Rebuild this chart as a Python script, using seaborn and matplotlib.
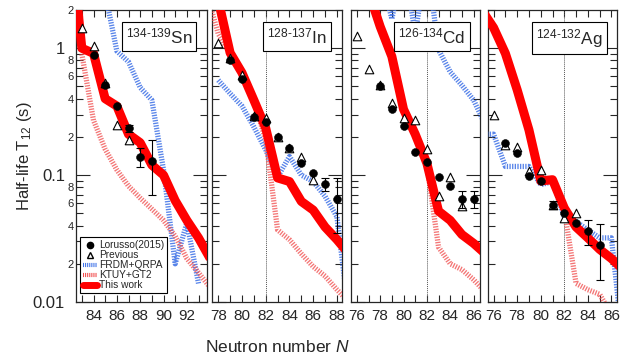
import numpy as np
import matplotlib
matplotlib.use("Agg")
import matplotlib.pyplot as plt
import seaborn as sns
from matplotlib.lines import Line2D
from matplotlib.ticker import FixedLocator, FuncFormatter, MultipleLocator

nan = np.nan

# ---- Sn (134-139)
sn_n = [82, 83, 84, 85, 86, 87, 88, 89, 90, 91, 92, 93, 94]
sn_this = [8, 1.0, 0.91, 0.40, 0.35, 0.21, 0.18, 0.12, 0.10, 0.063, 0.044, 0.032, 0.022]
sn_ktuy = [nan, 0.9, 0.27, 0.16, 0.11, 0.082, 0.066, 0.054, 0.044, 0.033, 0.022, 0.017, 0.013]
sn_frdm = [nan, nan, 6, 2.7, 0.95, 0.78, 0.49, 0.39, 0.11, 0.02, 0.042, 0.014, nan]
sn_exp_n = [84, 85, 86, 87, 88, 89]
sn_exp = [0.89, 0.51, 0.35, 0.235, 0.14, 0.13]
sn_exp_err = [0, 0, 0, 0.015, 0.025, 0.06]
sn_prev_n = [83, 84, 85, 86, 87]
sn_prev = [1.45, 1.05, 0.53, 0.25, 0.19]

# ---- In (128-137)
in_n = [77, 78, 79, 80, 81, 82, 83, 84, 85, 86, 87, 88, 89]
in_this = [nan, 2.4, 0.92, 0.64, 0.39, 0.235, 0.095, 0.089, 0.062, 0.053, 0.039, 0.031, 0.024]
in_ktuy = [2.8, 1.3, 0.9, 0.62, 0.38, 0.19, 0.037, 0.031, 0.024, 0.019, 0.016, 0.0125, 0.010]
in_frdm = [nan, 0.56, 0.44, 0.35, 0.24, 0.158, 0.097, 0.14, 0.10, 0.089, 0.068, 0.047, 0.008]
in_exp_n = [79, 80, 81, 82, 83, 84, 85, 86, 87, 88]
in_exp = [0.81, 0.57, 0.287, 0.26, 0.20, 0.165, 0.125, 0.103, 0.085, 0.065]
in_exp_err = [0, 0, 0, 0, 0, 0, 0, 0, 0.01, 0.03]
in_prev_n = [78, 79, 80, 81, 82, 83, 84, 85, 86]
in_prev = [1.09, 0.84, 0.61, 0.29, 0.28, 0.20, 0.165, 0.14, 0.092]

# ---- Cd (126-134)
cd_n = [77, 78, 79, 80, 81, 82, 83, 84, 85, 86, 87]
cd_this = [2.8, 1.48, 0.86, 0.33, 0.21, 0.124, 0.052, 0.044, 0.034, 0.029, 0.024]
cd_ktuy = [2.8, 1.48, 0.86, 0.33, 0.21, 0.12, 0.027, 0.020, 0.018, 0.015, 0.012]
cd_frdm = [6, 4, 1.7, 5, 1.3, 5, 0.97, 0.65, 0.51, 0.39, 0.25]
cd_exp_n = [78, 79, 80, 81, 82, 83, 84, 85, 86]
cd_exp = [0.50, 0.33, 0.244, 0.153, 0.127, 0.097, 0.082, 0.065, 0.065]
cd_exp_err = [0, 0, 0, 0, 0, 0, 0, 0.01, 0.01]
cd_prev_n = [76, 77, 78, 79, 80, 81, 82, 83, 84, 85]
cd_prev = [1.25, 0.68, 0.515, 0.37, 0.28, 0.27, 0.162, 0.068, 0.097, 0.057]

# ---- Ag (124-132)
ag_n = [75, 76, 77, 78, 79, 80, 81, 82, 83, 84, 85, 86, 87]
ag_this = [2.0, 1.45, 0.91, 0.47, 0.227, 0.09, 0.092, 0.055, 0.039, 0.032, 0.026, 0.022, 0.018]
ag_ktuy = [2.0, 1.45, 0.91, 0.47, 0.227, 0.09, 0.092, 0.052, 0.014, 0.0125, 0.0115, 0.008, nan]
ag_frdm = [0.21, 0.21, 0.117, 0.117, 0.117, 0.084, 0.089, 0.047, 0.043, 0.037, 0.032, 0.032, 0.0045]
ag_exp_n = [77, 78, 79, 80, 81, 82, 83, 84, 85]
ag_exp = [0.18, 0.15, 0.099, 0.09, 0.058, 0.05, 0.042, 0.036, 0.028]
ag_exp_err = [0, 0, 0, 0, 0.004, 0, 0, 0.008, 0.013]
ag_prev_n = [76, 77, 78, 79, 80, 81, 82, 83]
ag_prev = [0.30, 0.172, 0.166, 0.107, 0.109, 0.058, 0.046, 0.05]

labels = ["134-139", "128-137", "126-134", "124-132"]
elements = ["Sn", "In", "Cd", "Ag"]
xlims = [(82.5, 93.7), (77.5, 88.4), (75.5, 86.55), (75.55, 86.5)]
xticks = [[84, 86, 88, 90, 92], [78, 80, 82, 84, 86, 88],
          [76, 78, 80, 82, 84, 86], [76, 78, 80, 82, 84, 86]]
lefts = [76, 212.3, 351, 488.3]
widths = [130.7, 129.4, 129, 129]

panels = [
    (sn_n, sn_this, sn_ktuy, sn_frdm, sn_exp_n, sn_exp, sn_exp_err, sn_prev_n, sn_prev),
    (in_n, in_this, in_ktuy, in_frdm, in_exp_n, in_exp, in_exp_err, in_prev_n, in_prev),
    (cd_n, cd_this, cd_ktuy, cd_frdm, cd_exp_n, cd_exp, cd_exp_err, cd_prev_n, cd_prev),
    (ag_n, ag_this, ag_ktuy, ag_frdm, ag_exp_n, ag_exp, ag_exp_err, ag_prev_n, ag_prev),
]

sns.set_style("ticks")
plt.rcParams["font.family"] = ["Liberation Sans", "DejaVu Sans"]
plt.rcParams["mathtext.fontset"] = "custom"
plt.rcParams["mathtext.rm"] = "Liberation Sans"
plt.rcParams["mathtext.it"] = "Liberation Sans:italic"
plt.rcParams["axes.linewidth"] = 0.9

blue = "#3b6fe6"
pink = "#f04848"
red = "#ff0000"
dots = (0, (0.25, 0.25))


def draw_line(ax, x, y, **kw):
    x = np.asarray(x, float)
    y = np.asarray(y, float)
    m = ~np.isnan(y)
    sns.lineplot(x=x[m], y=y[m], ax=ax, estimator=None, sort=False, **kw)


def minor_fmt(v, pos):
    m = v / 10 ** np.floor(np.log10(v) + 1e-9)
    return "%d" % round(m) if round(m) in (2, 4, 6, 8) else ""


def major_fmt(v, pos):
    return {1: "1", 0.1: "0.1", 0.01: "0.01"}.get(round(v, 3), "")


fig = plt.figure(figsize=(6.4, 3.6), dpi=100)
axes = []
for i, p in enumerate(panels):
    n, this, ktuy, frdm, en, ev, ee, pn, pv = p
    ax = fig.add_axes([lefts[i] / 640, 1 - 302 / 360, widths[i] / 640, 292 / 360])
    axes.append(ax)
    ax.set_yscale("log")

    draw_line(ax, n, frdm, color=blue, lw=3.8, linestyle=dots, alpha=0.85, zorder=3)
    draw_line(ax, n, ktuy, color=pink, lw=3.8, linestyle=dots, alpha=0.75, zorder=3)
    draw_line(ax, n, this, color=red, lw=6.5, zorder=4, solid_capstyle="butt")

    sns.scatterplot(x=pn, y=pv, ax=ax, marker="^", s=38, facecolor="white",
                    edgecolor="black", linewidth=0.8, zorder=5)

    ee = np.asarray(ee)
    has = ee > 0
    ax.errorbar(np.asarray(en)[has], np.asarray(ev)[has], yerr=ee[has], fmt="none",
                ecolor="black", elinewidth=0.8, capsize=3, capthick=0.8, zorder=6)
    sns.scatterplot(x=en, y=ev, ax=ax, marker="o", s=32, color="black",
                    edgecolor="black", linewidth=0.4, zorder=6)

    if i > 0:
        ax.axvline(82, color="#555555", lw=0.7, ls=(0, (1, 1)), zorder=1)

    ax.set_xlim(*xlims[i])
    ax.set_ylim(0.01, 2)
    ax.xaxis.set_major_locator(FixedLocator(xticks[i]))
    ax.xaxis.set_minor_locator(MultipleLocator(1))
    ax.yaxis.set_major_locator(FixedLocator([0.01, 0.1, 1]))
    ax.yaxis.set_minor_locator(FixedLocator([k * d for d in (0.01, 0.1, 1) for k in range(2, 10)]))
    ax.tick_params(which="both", direction="in", top=True, right=True, width=0.8)
    ax.tick_params(axis="x", which="both", length=5, labelsize=11, pad=5)
    ax.tick_params(axis="y", which="major", length=10, labelsize=12, pad=8)
    ax.tick_params(axis="y", which="minor", length=5, labelsize=8, pad=1.5)
    if i == 0:
        ax.yaxis.set_major_formatter(FuncFormatter(major_fmt))
        ax.yaxis.set_minor_formatter(FuncFormatter(minor_fmt))
    else:
        ax.tick_params(axis="y", which="both", labelleft=False)
    ax.set_xlabel("")
    ax.set_ylabel("")

    ax.text(1 - 14.5 / widths[i], 0.943, r"$^{\text{%s}}$%s" % (labels[i], elements[i]),
            transform=ax.transAxes, ha="right", va="top", fontsize=12.3, zorder=10,
            bbox=dict(boxstyle="square,pad=0.25", fc="white", ec="black", lw=0.8))

handles = [
    Line2D([], [], marker="o", color="black", ls="none", markersize=4.5),
    Line2D([], [], marker="^", markerfacecolor="white", markeredgecolor="black", ls="none", markersize=5),
    Line2D([], [], color=blue, lw=3, ls=dots),
    Line2D([], [], color=pink, lw=3, ls=dots),
    Line2D([], [], color=red, lw=5),
]
leg = axes[0].legend(handles, ["Lorusso(2015)", "Previous", "FRDM+QRPA", "KTUY+GT2", "This work"],
                     loc="lower left", bbox_to_anchor=(0.03, 0.03), borderaxespad=0,
                     fontsize=7.3, handlelength=1.4, handletextpad=0.2, labelspacing=0.0,
                     borderpad=0.3, fancybox=False, framealpha=1, edgecolor="black")
leg.get_frame().set_linewidth(0.8)
leg.set_zorder(10)

fig.text(0.4336, 0.036, r"Neutron number $N$", ha="center", va="center", fontsize=12.5)
fig.text(0.0375, 0.567, r"Half-life T$_{\mathregular{12}}$ (s)", rotation=90,
         ha="center", va="center", fontsize=12)

fig.savefig("out.png", dpi=100)
